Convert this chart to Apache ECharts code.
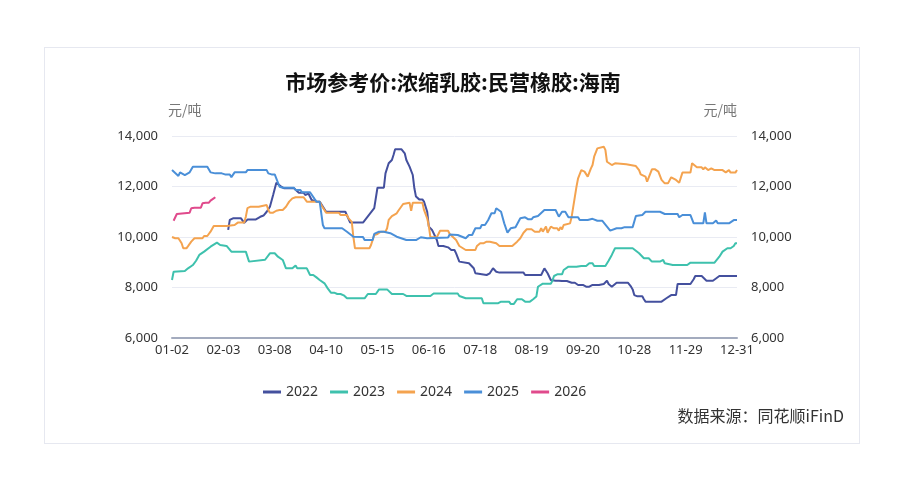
<!DOCTYPE html>
<html>
<head>
<meta charset="utf-8">
<script src="https://cdn.jsdelivr.net/npm/echarts@6/dist/echarts.min.js"></script>
<style>
html,body{margin:0;padding:0;background:#fff;}
#frame{position:absolute;left:44px;top:47px;width:816px;height:397px;border:1px solid #e6e8f0;box-sizing:border-box;}
#chart{position:absolute;left:0;top:0;width:906px;height:502px;}
</style>
</head>
<body>
<div id="frame"></div>
<div id="chart"></div>
<script>
// x-axis categories: month-day positions (union of trading days), labelled every 32
const excludedDays = ['01-01','02-10','02-11','04-05','05-01','05-02','05-03','10-01','10-02','10-03','10-04','10-05','10-06'];
const monthLengths = [31,29,31,30,31,30,31,31,30,31,30,31];
const categories = [];
for (let m = 1; m <= 12; m++) {
  for (let d = 1; d <= monthLengths[m-1]; d++) {
    const s = String(m).padStart(2,'0') + '-' + String(d).padStart(2,'0');
    if (excludedDays.indexOf(s) < 0) categories.push(s);
  }
}
const yTicks = [6000, 8000, 10000, 12000, 14000];
const seriesNames = ['2022','2023','2024','2025','2026'];

const s2022 = [['02-06',10280],['02-07',10675],['02-09',10740],['02-16',10740],['02-18',10560],['02-20',10690],['02-25',10690],['02-28',10800],['03-01',10850],['03-03',11000],['03-05',11200],['03-07',11665],['03-09',12150],['03-10',12150],['03-12',11995],['03-14',11930],['03-20',11930],['03-21',11860],['03-23',11755],['03-26',11755],['03-27',11665],['03-28',11720],['03-29',11720],['03-31',11465],['04-03',11400],['04-06',11400],['04-10',11000],['04-18',11000],['04-19',10970],['04-22',11000],['04-25',10570],['05-06',10570],['05-13',11140],['05-15',11950],['05-19',11950],['05-20',12520],['05-22',12920],['05-24',13050],['05-25',13250],['05-26',13475],['05-30',13475],['06-01',13315],['06-02',13050],['06-04',12785],['06-06',12455],['06-07',11930],['06-08',11600],['06-10',11490],['06-12',11490],['06-13',11400],['06-15',11000],['06-16',10410],['06-18',10280],['06-21',9880],['06-22',9645],['06-25',9645],['06-26',9590],['06-28',9590],['06-30',9485],['07-02',9485],['07-03',9350],['07-05',9025],['07-06',8960],['07-11',8960],['07-14',8760],['07-15',8563],['07-16',8495],['07-22',8495],['07-23',8563],['07-24',8563],['07-26',8760],['07-28',8625],['07-30',8590],['08-14',8590],['08-15',8495],['08-25',8495],['08-27',8760],['08-28',8760],['08-29',8563],['08-31',8298],['09-03',8270],['09-05',8270],['09-06',8200],['09-07',8258],['09-10',8258],['09-13',8190],['09-15',8190],['09-17',8100],['09-20',8100],['09-22',8030],['09-24',8030],['09-26',8100],['09-30',8100],['10-07',8140],['10-09',8140],['10-11',8270],['10-12',8140],['10-14',8030],['10-17',8190],['10-24',8190],['10-26',8030],['10-27',7925],['10-28',7700],['10-30',7650],['11-02',7650],['11-03',7533],['11-04',7440],['11-14',7440],['11-15',7500],['11-17',7573],['11-18',7573],['11-20',7700],['11-23',7700],['11-24',8140],['12-02',8140],['12-04',8325],['12-05',8456],['12-09',8456],['12-12',8270],['12-16',8270],['12-20',8456],['12-31',8456]];

const s2023 = [['01-02',8298],['01-03',8625],['01-04',8655],['01-10',8655],['01-12',8760],['01-15',8890],['01-17',9060],['01-19',9290],['01-22',9420],['01-26',9615],['01-30',9775],['02-01',9685],['02-05',9645],['02-08',9420],['02-19',9420],['02-21',9025],['02-22',9100],['03-02',9100],['03-05',9355],['03-08',9355],['03-10',9220],['03-13',9090],['03-15',8760],['03-19',8760],['03-21',8870],['03-22',8760],['03-28',8760],['03-30',8495],['04-01',8495],['04-03',8400],['04-06',8298],['04-09',8165],['04-11',7965],['04-13',7795],['04-15',7795],['04-17',7743],['04-19',7743],['04-21',7690],['04-23',7573],['05-07',7573],['05-09',7743],['05-14',7743],['05-16',7925],['05-21',7925],['05-22',7860],['05-24',7743],['05-31',7743],['06-02',7665],['06-17',7665],['06-19',7760],['07-04',7760],['07-05',7665],['07-09',7573],['07-19',7573],['07-20',7375],['07-29',7375],['07-31',7440],['08-05',7440],['08-06',7350],['08-08',7350],['08-10',7533],['08-13',7533],['08-15',7440],['08-18',7440],['08-20',7533],['08-22',7640],['08-23',8030],['08-26',8150],['08-31',8150],['09-01',8270],['09-02',8456],['09-04',8520],['09-07',8520],['09-08',8694],['09-09',8694],['09-11',8825],['09-16',8825],['09-19',8852],['09-22',8852],['09-24',8960],['09-26',8960],['09-27',8852],['10-10',8852],['10-12',9060],['10-14',9290],['10-16',9553],['10-27',9553],['10-31',9355],['11-03',9157],['11-06',9157],['11-08',9025],['11-13',9025],['11-15',9090],['11-16',8960],['11-21',8890],['11-30',8890],['12-02',8984],['12-17',8984],['12-20',9220],['12-22',9420],['12-25',9553],['12-27',9553],['12-29',9645],['12-30',9750],['12-31',9750]];

const s2024 = [['01-02',10000],['01-04',9950],['01-06',9950],['01-08',9750],['01-09',9553],['01-11',9553],['01-12',9640],['01-14',9815],['01-16',9950],['01-21',9950],['01-22',10040],['01-24',10040],['01-26',10210],['01-28',10436],['02-05',10436],['02-06',10475],['02-12',10475],['02-14',10570],['02-18',10570],['02-19',10805],['02-20',11140],['02-22',11200],['02-27',11200],['02-28',11270],['03-03',11270],['03-04',11070],['03-05',10963],['03-07',10963],['03-09',11040],['03-11',11070],['03-13',11070],['03-15',11200],['03-17',11400],['03-19',11530],['03-21',11575],['03-26',11575],['03-27',11530],['03-28',11400],['04-06',11400],['04-07',11270],['04-10',10963],['04-18',10963],['04-19',10870],['04-23',10870],['04-24',10740],['04-26',10600],['04-27',10000],['04-28',9553],['05-10',9553],['05-11',9684],['05-13',10080],['05-15',10120],['05-17',10210],['05-20',10210],['05-21',10345],['05-22',10675],['05-24',10830],['05-27',10940],['05-28',11040],['05-29',11040],['05-31',11307],['06-01',11360],['06-04',11360],['06-05',11040],['06-06',11360],['06-12',11360],['06-13',11070],['06-15',10740],['06-16',10436],['06-17',9990],['06-21',9990],['06-23',10250],['06-28',10250],['06-29',10120],['07-03',9880],['07-05',9644],['07-09',9485],['07-15',9485],['07-16',9644],['07-18',9750],['07-20',9750],['07-22',9815],['07-24',9815],['07-25',9750],['07-28',9750],['07-29',9684],['07-30',9644],['08-07',9644],['08-10',9815],['08-12',9950],['08-13',9950],['08-14',10170],['08-16',10305],['08-19',10305],['08-21',10210],['08-24',10210],['08-25',10345],['08-26',10210],['08-28',10420],['08-29',10170],['08-31',10410],['09-02',10345],['09-04',10345],['09-05',10250],['09-06',10390],['09-07',10300],['09-08',10475],['09-09',10540],['09-12',10540],['09-13',10805],['09-14',11200],['09-15',11600],['09-16',11995],['09-17',12325],['09-19',12650],['09-21',12590],['09-23',12390],['09-25',12720],['09-26',12850],['09-27',13180],['09-29',13510],['09-30',13575],['10-09',13575],['10-10',13450],['10-11',12980],['10-14',12850],['10-16',12920],['10-17',12880],['10-23',12880],['10-24',12810],['10-29',12810],['10-31',12650],['11-01',12480],['11-04',12390],['11-05',12190],['11-08',12680],['11-10',12680],['11-12',12590],['11-14',12260],['11-16',12125],['11-18',12125],['11-20',12365],['11-23',12260],['11-25',12150],['11-27',12550],['12-02',12550],['12-03',12920],['12-04',12850],['12-06',12760],['12-09',12760],['12-10',12680],['12-11',12760],['12-13',12650],['12-15',12720],['12-17',12650],['12-22',12650],['12-24',12560],['12-26',12650],['12-27',12550],['12-30',12550],['12-31',12650]];

const s2025 = [['01-02',12650],['01-06',12420],['01-07',12560],['01-10',12450],['01-13',12560],['01-15',12780],['01-24',12780],['01-26',12560],['01-29',12520],['02-02',12520],['02-04',12480],['02-07',12480],['02-08',12370],['02-12',12560],['02-19',12560],['02-20',12650],['03-03',12650],['03-04',12520],['03-06',12480],['03-08',12480],['03-11',11990],['03-13',11950],['03-20',11950],['03-21',11860],['03-24',11860],['03-25',11770],['03-30',11770],['04-02',11490],['04-03',11400],['04-06',11400],['04-08',10475],['04-09',10345],['04-17',10345],['04-18',10280],['04-20',10345],['04-23',10210],['04-27',10010],['05-06',10000],['05-07',9880],['05-12',9880],['05-13',10120],['05-16',10210],['05-19',10210],['05-20',10280],['05-23',10150],['05-27',10010],['06-02',9880],['06-08',9880],['06-11',9990],['06-15',9950],['06-28',9980],['06-29',10100],['07-04',10080],['07-09',9950],['07-11',10080],['07-13',10080],['07-15',10345],['07-18',10345],['07-19',10475],['07-21',10475],['07-23',10675],['07-25',10940],['07-27',10940],['07-28',11140],['07-29',11140],['07-31',11000],['08-02',10540],['08-04',10170],['08-06',10345],['08-09',10390],['08-12',10740],['08-13',10680],['08-15',10780],['08-17',10700],['08-19',10700],['08-20',10780],['08-23',10830],['08-27',11070],['09-03',11070],['09-05',10805],['09-07',11000],['09-09',11000],['09-11',10780],['09-17',10780],['09-18',10675],['09-23',10675],['09-24',10720],['09-26',10720],['09-29',10645],['10-08',10645],['10-11',10410],['10-13',10250],['10-14',10250],['10-17',10345],['10-20',10345],['10-22',10390],['10-27',10390],['10-29',10830],['11-02',10870],['11-04',11000],['11-13',11000],['11-16',10910],['11-24',10910],['11-25',10780],['11-27',10870],['12-02',10870],['12-04',10540],['12-10',10540],['12-11',10975],['12-12',10540],['12-16',10540],['12-18',10650],['12-19',10540],['12-26',10540],['12-29',10670],['12-31',10670]];

const s2026 = [['01-03',10645],['01-05',10910],['01-06',10963],['01-13',10963],['01-14',11140],['01-15',11140],['01-16',11160],['01-20',11160],['01-21',11335],['01-22',11335],['01-23',11360],['01-25',11360],['01-26',11440],['01-28',11530],['01-29',11575]];

const seriesData = [s2022, s2023, s2024, s2025, s2026];
const colors = ['#44509e', '#3ec1ad', '#f4a34f', '#4a8fd8', '#e04a8c'];

const FONT = '"Noto Sans", "Noto Sans CJK SC", sans-serif';
const chart = echarts.init(document.getElementById('chart'));

function yAxisCfg(pos) {
  return {
    type: 'value', position: pos,
    min: yTicks[0], max: yTicks[yTicks.length-1], interval: 2000,
    name: '元/吨',
    nameLocation: 'end',
    nameGap: 19,
    nameTextStyle: { color: '#777', fontSize: 14, fontFamily: '"Noto Sans CJK SC", sans-serif', align: pos === 'left' ? 'left' : 'right', padding: pos === 'left' ? [0,0,0,-4] : [0,0,0,0] },
    axisLine: { show: false }, axisTick: { show: false },
    splitLine: { show: pos === 'left', lineStyle: { color: '#e9ebf3', width: 1 } },
    axisLabel: { color: '#333', fontSize: 13, fontFamily: FONT, margin: 14,
      formatter: v => v.toLocaleString('en-US') }
  };
}

chart.setOption({
  animation: false,
  color: colors,
  title: {
    text: '市场参考价:浓缩乳胶:民营橡胶:海南',
    left: 'center', top: 67,
    textStyle: { fontSize: 21, fontWeight: 'bold', color: '#111', fontFamily: '"Noto Sans CJK SC", sans-serif' }
  },
  legend: {
    data: seriesNames, top: 380, left: 258,
    icon: 'rect',
    itemWidth: 18, itemHeight: 3, itemGap: 12,
    textStyle: { color: '#333', fontSize: 14, fontFamily: FONT }
  },
  graphic: [{
    type: 'text', right: 62, top: 408,
    style: { text: '数据来源：同花顺iFinD', fill: '#333', font: '16px "Noto Sans CJK SC", sans-serif' }
  }],
  grid: { left: 172, right: 169, top: 136, bottom: 164 },
  xAxis: {
    type: 'category', data: categories, boundaryGap: false,
    axisLine: { lineStyle: { color: '#a3abbe', width: 2 } },
    axisTick: { show: false },
    axisLabel: { interval: 31, color: '#333', fontSize: 13, fontFamily: FONT, margin: 6, showMaxLabel: true }
  },
  yAxis: [yAxisCfg('left'), yAxisCfg('right')],
  series: seriesNames.map((n, k) => ({
    name: n, type: 'line', data: seriesData[k], symbol: 'none',
    lineStyle: { width: 2, color: colors[k] }, itemStyle: { color: colors[k] }
  }))
});
</script>
</body>
</html>
